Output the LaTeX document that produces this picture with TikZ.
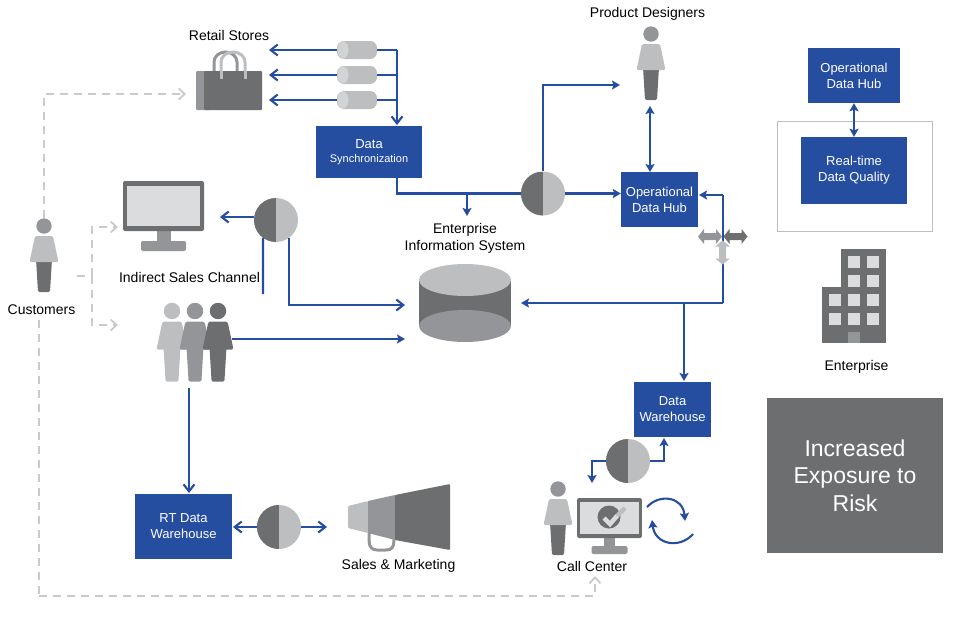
\documentclass[tikz,border=0pt]{standalone}
\usepackage{fontspec}
\setmainfont{Liberation Sans}
\usetikzlibrary{arrows.meta,positioning}
\definecolor{brand}{HTML}{254DA0}
\definecolor{darkgrey}{HTML}{6D6E70}
\definecolor{midgrey}{HTML}{939598}
\definecolor{softgrey}{HTML}{BCBEC0}
\definecolor{palegrey}{HTML}{DBDCDD}
\definecolor{dashgrey}{HTML}{C9CACC}
\tikzset{
  flowopen/.style={-{Straight Barb[length=7pt,width=11pt,line width=2.1pt]}, line width=2.1pt, color=brand},
  flowfill/.style={-{Stealth[length=8pt,width=9pt,inset=1.5pt]}, line width=2.1pt, color=brand},
  flowboth/.style={{Stealth[length=8pt,width=9pt,inset=1.5pt]}-{Stealth[length=8pt,width=9pt,inset=1.5pt]}, line width=2.1pt, color=brand},
  flowline/.style={line width=2.1pt, color=brand},
  dashflow/.style={-{Straight Barb[length=6pt,width=11pt,line width=1.8pt]}, line width=2.1pt, color=dashgrey, dash pattern=on 8pt off 6pt},
  dashline/.style={line width=2.1pt, color=dashgrey, dash pattern=on 8pt off 6pt},
  blockbox/.style={fill=brand, text=white, inner sep=0pt, align=center, font=\fontsize{13}{16}\selectfont},
  lab/.style={inner sep=0pt, align=center, text=black, font=\fontsize{14}{17}\selectfont},
  splitdot/.style={circle, minimum size=44pt, inner sep=0pt, fill=softgrey, path picture={\fill[darkgrey] (path picture bounding box.north west) rectangle (path picture bounding box.south);}},
  pipe/.style={rounded corners=7pt, fill=softgrey, minimum width=40pt, minimum height=18pt, inner sep=0pt},
  pics/person/.style n args={3}{code={
    \fill[#3, rounded corners=1.5pt] (-8,33) -- (8,33) -- (6,66) -- (-6,66) -- cycle;
    \fill[#2, rounded corners=1.5pt] (-9,10) -- (9,10) -- (14.5,36) -- (-14.5,36) -- cycle;
    \fill[#1] (0,0) circle (7.7);
  }},
  pics/monitor/.style={code={
    \fill[midgrey] (-7,49) rectangle (7,61);
    \fill[midgrey, rounded corners=2pt] (-22.5,60) rectangle (22.5,70);
    \fill[darkgrey, rounded corners=2pt] (-40.5,0) rectangle (40.5,50);
    \fill[palegrey] (-36.5,5) rectangle (36.5,45);
  }},
  pics/twoway/.style={code={
    \fill[#1] (-12,0) -- (-6,-7.5) -- (-6,-3.5) -- (6,-3.5) -- (6,-7.5) -- (12,0) -- (6,7.5) -- (6,3.5) -- (-6,3.5) -- (-6,7.5) -- cycle;
  }}
}
\begin{document}
\begin{tikzpicture}[x=1pt,y=-1pt]
\useasboundingbox (0,0) rectangle (966,616);
% blue blocks
\node[blockbox, minimum width=106pt, minimum height=52pt] (sync) at (369,152) {Data\\[-2pt]{\fontsize{11}{13}\selectfont Synchronization}};
\node[blockbox, minimum width=77pt, minimum height=55pt] (hub) at (659.5,199.5) {Operational\\Data Hub};
\node[blockbox, minimum width=92pt, minimum height=55pt] (hubtop) at (854,75.5) {Operational\\Data Hub};
\node[draw=softgrey, line width=.8pt, minimum width=155pt, minimum height=110pt, inner sep=0pt] (frame) at (854.5,176) {};
\node[blockbox, minimum width=106pt, minimum height=67pt] (quality) at (854,170.5) {Real-time\\Data Quality};
\node[blockbox, minimum width=77pt, minimum height=55pt] (ware) at (672.5,409.5) {Data\\Warehouse};
\node[blockbox, minimum width=97pt, minimum height=65pt] (rtware) at (183.5,526.5) {RT Data\\Warehouse};
\node[fill=darkgrey, text=white, inner sep=0pt, minimum width=176pt, minimum height=155pt, align=center, font=\fontsize{23}{27.5}\selectfont] (risk) at (855,475.5) {Increased\\Exposure to\\Risk};

% split circles
\node[splitdot] (dotmain) at (543,193.5) {};
\node[splitdot] (dotsales) at (276,220) {};
\node[splitdot] (dotcall) at (628,461) {};
\node[splitdot] (dotmark) at (279,527) {};

% pipes
\foreach \n/\yy in {1/50,2/75,3/100} {
  \node[pipe] (pipe\n) at (357,\yy) {};
  \fill[palegrey!70!softgrey] (343,\yy) ellipse (5.5 and 8.5);
  \coordinate (bag\n) at (269,\yy);
  \coordinate (drop\n) at (397,\yy);
  \draw[flowopen] (pipe\n.west) -- (bag\n);
  \draw[flowline] (pipe\n.east) -- (drop\n);
}

% bag
\draw[midgrey, line width=3pt] (214,72) -- (214,62) arc (180:360:11.5 and 10) -- (237,72);
\draw[softgrey, line width=3pt] (221,72) -- (221,62) arc (180:360:12 and 10) -- (245,72);
\fill[midgrey, rounded corners=1pt] (196,71) rectangle (210,110);
\fill[darkgrey, rounded corners=1pt] (204,71) rectangle (262,110);
\draw[softgrey, line width=3pt] (221,71) -- (221,79);
\draw[softgrey, line width=3pt] (245,71) -- (245,79);

% people
\pic at (651,34) {person={midgrey}{softgrey}{darkgrey}};
\pic at (44,226) {person={midgrey}{softgrey}{darkgrey}};
\pic at (558,489) {person={midgrey}{softgrey}{darkgrey}};
\pic[scale=1.07] at (172,311) {person={softgrey}{softgrey}{softgrey}};
\pic[scale=1.07] at (195,311) {person={midgrey}{midgrey}{midgrey}};
\pic[scale=1.07] at (218,311) {person={darkgrey}{darkgrey}{darkgrey}};

% monitors
\pic at (163.5,181) {monitor};
\pic[scale=.8] at (609.5,498) {monitor};
\fill[darkgrey] (609,517) circle (11.5);
\draw[softgrey, line width=4.5pt] (616,517) -- (625,508);
\draw[palegrey, line width=4.5pt] (604,518) -- (610,524) -- (617,516);

% database
\fill[darkgrey] (419,280) rectangle (511,326);
\fill[midgrey] (465,326) ellipse (46 and 16);
\fill[softgrey] (465,280) ellipse (46 and 16);

% megaphone
\draw[midgrey, line width=3pt] (369,532) -- (369,540) .. controls (369,547) and (372,550) .. (377,550) -- (386,550) .. controls (392,550) and (394,547) .. (394,540) -- (394,532);
\fill[softgrey, rounded corners=1pt] (348,506) -- (368,501) -- (368,533) -- (348,528) -- cycle;
\fill[midgrey] (368,501) -- (395,495) -- (395,540) -- (368,533) -- cycle;
\fill[darkgrey, rounded corners=1pt] (395,495) -- (450,484) -- (450,550) -- (395,540) -- cycle;

% building
\fill[darkgrey] (841,249) rectangle (886,343);
\fill[darkgrey] (822,287) rectangle (841,343);
\foreach \xx/\yy in {848/256,867/256,848/275,867/275,829/294,848/294,867/294,829/313,848/313,867/313} {
  \fill[palegrey] (\xx,\yy) rectangle ++(12,12);
}
\fill[midgrey] (848,332) rectangle (860,343);

% waypoints
\coordinate (syncdrop) at (397,125);
\coordinate (syncout) at (397,178);
\coordinate (eisfork) at (467,194);
\coordinate (eistop) at (467,216);
\coordinate (designerin) at (620,85);
\coordinate (designerup) at (650,106);
\coordinate (hubdown) at (650,172);
\coordinate (ringcorner) at (723,195);
\coordinate (ringin) at (699,195);
\coordinate (ringlow) at (723,303);
\coordinate (eisright) at (521,303);
\coordinate (warefork) at (684,303);
\coordinate (wareup) at (684,381);
\coordinate (monitorin) at (220,217);
\coordinate (salesend) at (263,294);
\coordinate (eisleft) at (405,305);
\coordinate (crowdout) at (232,339);
\coordinate (eisleftb) at (405,339);
\coordinate (crowddown) at (189,388);
\coordinate (rtup) at (189,493);
\coordinate (markin) at (327,527);
\coordinate (rtin) at (233,527);
\coordinate (wareleft) at (664,438);
\coordinate (callin) at (592,483);

% connectors
\draw[flowline] (drop1) -- (drop3);
\draw[flowopen] (drop3) -- (syncdrop);
\draw[flowline] (syncout) |- (dotmain.west);
\draw[flowfill] (eisfork) -- (eistop);
\draw[flowfill] (dotmain.east) -- (dotmain.east -| hub.west);
\draw[flowfill] (dotmain.north) |- (designerin);
\draw[flowboth] (hubdown) -- (designerup);
\draw[flowboth] (hubtop.south) -- (quality.north);
\draw[flowfill] (ringcorner) -- (ringin);
\draw[flowline] (ringcorner) -- (ringlow);
\draw[flowfill] (ringlow) -- (eisright);
\draw[flowfill] (warefork) -- (wareup);
\draw[flowopen] (dotsales.west |- monitorin) -- (monitorin);
\draw[flowline] (dotsales.-126) -- (salesend);
\draw[flowopen] (dotsales.-54) |- (eisleft);
\draw[flowfill] (crowdout) -- (eisleftb);
\draw[flowopen] (crowddown) -- (rtup);
\draw[flowopen] (dotmark.west) -- (rtin);
\draw[flowopen] (dotmark.east) -- (markin);
\draw[flowfill] (dotcall.east) -| (wareleft);
\draw[flowfill] (dotcall.west) -| (callin);

% loop arrows
\coordinate (loopa) at (647,507);
\coordinate (loopb) at (685,521);
\coordinate (loopc) at (693,534);
\coordinate (loopd) at (652,520);
\draw[flowfill] (loopa) .. controls (660,493) and (683,497) .. (loopb);
\draw[flowfill] (loopc) .. controls (680,549) and (655,545) .. (loopd);

% two-way arrows
\pic at (710,236.5) {twoway=midgrey};
\pic at (735.5,236.5) {twoway=darkgrey};
\pic[rotate=90] at (722.5,252.5) {twoway=softgrey};

% dashed paths
\coordinate (custup) at (44,218);
\coordinate (bagin) at (186,94);
\coordinate (custside) at (77,276);
\coordinate (splitx) at (92,276);
\coordinate (monin) at (118,227);
\coordinate (crowdin) at (118,325);
\coordinate (custdown) at (39,320);
\coordinate (callup) at (595,576);
\coordinate (bottomrun) at (39,596);
\draw[dashflow] (custup) |- (bagin);
\draw[dashline] (custside) -- (splitx);
\draw[dashflow] (splitx) |- (monin);
\draw[dashflow] (splitx) |- (crowdin);
\draw[dashline] (custdown) -- (bottomrun);
\draw[dashflow] (bottomrun) -| (callup);

% labels
\node[lab] (retail) at (229,35) {Retail Stores};
\node[lab] (designers) at (647.5,14) {Product Designers};
\node[lab] (customers) at (41.5,310) {Customers};
\node[lab] (indirect) at (189.5,277) {Indirect Sales Channel};
\node[lab] (eis) at (465,238) {Enterprise\\Information System};
\node[lab] (marketing) at (398.5,566) {Sales \& Marketing};
\node[lab] (callcenter) at (592,566) {Call Center};
\node[lab] (enterprise) at (856.5,367) {Enterprise};
\end{tikzpicture}
\end{document}
